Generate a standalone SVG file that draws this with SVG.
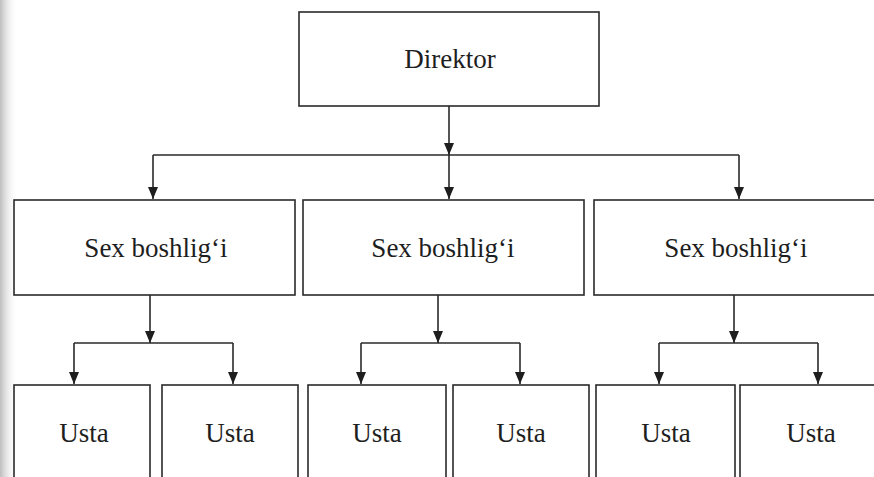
<svg xmlns="http://www.w3.org/2000/svg" width="874" height="477" viewBox="0 0 874 477">
  <style>
    .box { fill: #ffffff; stroke: #2a2a2a; stroke-width: 1.6; }
    .lbl { font-family: "Liberation Serif", "Times New Roman", serif; font-size: 27px; fill: #1e1e1e; text-anchor: middle; }
    .con { fill: none; stroke: #2a2a2a; stroke-width: 1.6; }
    .arr { fill: none; stroke: #2a2a2a; stroke-width: 1.6; marker-end: url(#ah); }
  </style>
  <defs>
    <marker id="ah" markerUnits="userSpaceOnUse" markerWidth="12" markerHeight="12" viewBox="0 0 12 12" refX="12" refY="6" orient="auto">
      <path d="M0,1 L12,6 L0,11 Z" fill="#1e1e1e"/>
    </marker>
    <linearGradient id="edge" x1="0" y1="0" x2="1" y2="0">
      <stop offset="0" stop-color="#bdbdbd"/>
      <stop offset="1" stop-color="#ffffff" stop-opacity="0"/>
    </linearGradient>
  </defs>
  <rect x="0" y="0" width="874" height="477" fill="#ffffff"/>
  <rect x="0" y="0" width="18" height="477" fill="url(#edge)"/>

  <g id="connectors">
    <path class="arr" d="M449,106 L449,155"/>
    <path class="arr" d="M449,155 L449,199"/>
    <path class="con" d="M153,155 L739,155"/>
    <path class="arr" d="M153,155 L153,199"/>
    <path class="arr" d="M739,155 L739,199"/>

    <path class="arr" d="M150,295 L150,343"/>
    <path class="con" d="M74,343 L233,343"/>
    <path class="arr" d="M74,343 L74,384"/>
    <path class="arr" d="M233,343 L233,384"/>

    <path class="arr" d="M438,295 L438,343"/>
    <path class="con" d="M361,343 L520,343"/>
    <path class="arr" d="M361,343 L361,384"/>
    <path class="arr" d="M520,343 L520,384"/>

    <path class="arr" d="M734,295 L734,343"/>
    <path class="con" d="M659,343 L818,343"/>
    <path class="arr" d="M659,343 L659,384"/>
    <path class="arr" d="M818,343 L818,384"/>
  </g>

  <g id="direktor">
    <rect class="box" x="299" y="12" width="300" height="94"/>
    <text class="lbl" x="450" y="68">Direktor</text>
  </g>

  <g id="sex1">
    <rect class="box" x="14" y="200" width="281" height="95"/>
    <text class="lbl" x="156" y="257">Sex boshlig‘i</text>
  </g>
  <g id="sex2">
    <rect class="box" x="303" y="200" width="281" height="95"/>
    <text class="lbl" x="443" y="257">Sex boshlig‘i</text>
  </g>
  <g id="sex3">
    <rect class="box" x="594" y="200" width="290" height="95"/>
    <text class="lbl" x="736" y="257">Sex boshlig‘i</text>
  </g>

  <g id="usta1">
    <rect class="box" x="14" y="385" width="136" height="100"/>
    <text class="lbl" x="84" y="442">Usta</text>
  </g>
  <g id="usta2">
    <rect class="box" x="162" y="385" width="136" height="100"/>
    <text class="lbl" x="230" y="442">Usta</text>
  </g>
  <g id="usta3">
    <rect class="box" x="308" y="385" width="138" height="100"/>
    <text class="lbl" x="377" y="442">Usta</text>
  </g>
  <g id="usta4">
    <rect class="box" x="453" y="385" width="136" height="100"/>
    <text class="lbl" x="521" y="442">Usta</text>
  </g>
  <g id="usta5">
    <rect class="box" x="596" y="385" width="139" height="100"/>
    <text class="lbl" x="666" y="442">Usta</text>
  </g>
  <g id="usta6">
    <rect class="box" x="740" y="385" width="144" height="100"/>
    <text class="lbl" x="811" y="442">Usta</text>
  </g>
</svg>
